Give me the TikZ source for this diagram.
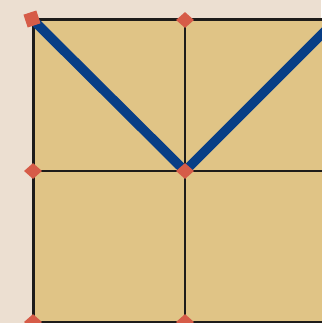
\documentclass[tikz,border=0pt]{standalone}
\usepackage{xcolor}
\usepackage{tikz}
\usetikzlibrary{shapes.geometric}
\definecolor{mypaper}{RGB}{236,223,209}
\definecolor{myboard}{RGB}{224,196,134}
\definecolor{mygrid}{RGB}{30,28,26}
\definecolor{myblue}{RGB}{8,62,134}
\definecolor{myred}{RGB}{214,92,72}
\pgfdeclarelayer{under}
\pgfsetlayers{under,main}
\tikzset{
  point/.style={diamond, fill=myred, inner sep=0pt,
    minimum width=18pt, minimum height=16pt},
  startpoint/.style={rectangle, fill=myred, inner sep=0pt,
    minimum size=13.5pt, rotate=18},
  edgeline/.style={line width=3pt, color=mygrid},
  gridline/.style={line width=1.5pt, color=mygrid},
  route/.style={line width=9.5pt, color=myblue, line join=miter}
}
\begin{document}
\begin{tikzpicture}[x=1pt, y=-1pt]
  % Frame
  \useasboundingbox (0,0) rectangle (321,323);
  \clip (0,0) rectangle (321,323);

  % Points
  \node[startpoint] (p00) at (32,19) {};
  \node[point] (p10) at (185,20) {};
  \node[point] (p01) at (33,171) {};
  \node[point] (p11) at (185,171) {};
  \node[point] (p02) at (33,322) {};
  \node[point] (p12) at (185,322) {};
  \coordinate (corner) at (33,20);
  \coordinate (off) at (345,11);

  \begin{pgfonlayer}{under}
  % Board
  \fill[mypaper] (0,0) rectangle (321,323);
  \fill[myboard] (corner) rectangle (340,340);
  \draw[gridline] (p10.center) -- (185,330);
  \draw[gridline] (p01.center) -- (330,171);
  \draw[edgeline] (31.5,20) -- (330,20);
  \draw[edgeline] (p02.center) -- (330,322);
  \draw[edgeline] (33,18.5) -- (33,330);

  % Route
  \draw[route] (p00.center) -- (p11.center) -- (off);
  \end{pgfonlayer}
\end{tikzpicture}
\end{document}
